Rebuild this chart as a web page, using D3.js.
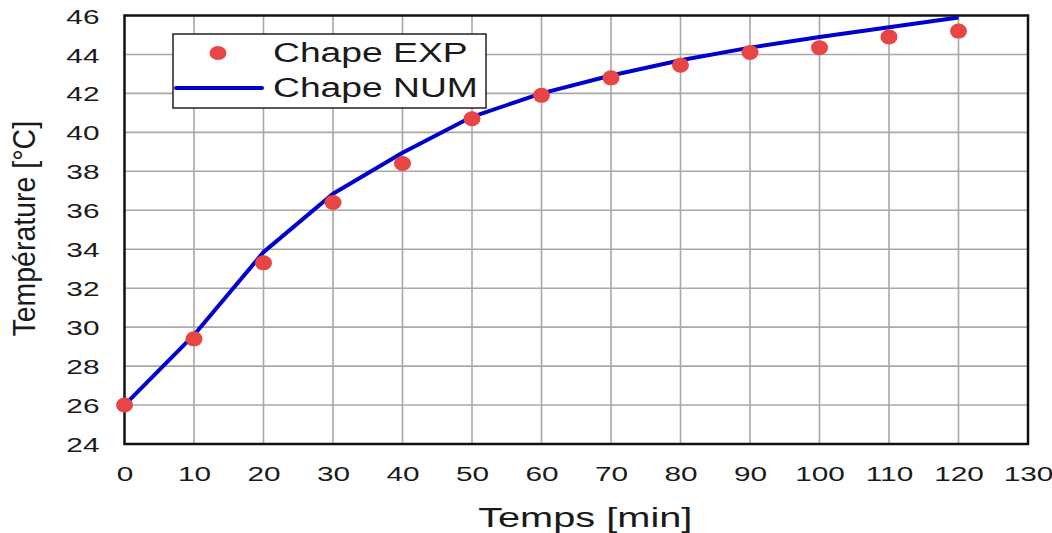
<!DOCTYPE html>
<html>
<head>
<meta charset="utf-8">
<script src="https://cdn.jsdelivr.net/npm/d3@7"></script>
<style>
  html, body { margin: 0; padding: 0; background: #fff; }
  svg { display: block; }
  text { font-family: "Liberation Sans", Arial, sans-serif; fill: #1a1a1a; }
</style>
</head>
<body>
<svg id="chart" width="1052" height="533"></svg>
<script>
// Time in minutes
const times = [0, 10, 20, 30, 40, 50, 60, 70, 80, 90, 100, 110, 120];
// Measured temperatures (°C)
const expValues = [26.0, 29.4, 33.3, 36.4, 38.4, 40.7, 41.9, 42.8, 43.45, 44.1, 44.35, 44.9, 45.2];
// Simulated temperatures (°C)
const numValues = [26.0, 29.6, 33.85, 36.85, 38.95, 40.8, 42.0, 42.92, 43.7, 44.35, 44.9, 45.4, 45.9];
const xTicks = d3.range(0, 131, 10);
const yTicks = d3.range(24, 47, 2);
const seriesNames = ["Chape EXP", "Chape NUM"];

const svg = d3.select("#chart");
const plotL = 124.5, plotR = 1028, plotT = 15.5, plotB = 444;
// horizontal widening applied to the lettering
const SX = 1.42;

const x = d3.scaleLinear().domain([0, 130]).range([plotL, plotR]);
const y = d3.scaleLinear().domain([24, 46]).range([plotB, plotT]);

// Grid
const grid = svg.append("g").attr("stroke", "#a8a8a8").attr("stroke-width", 1.6);
grid.selectAll(".vx").data(xTicks.slice(1, -1)).join("line")
  .attr("x1", d => x(d)).attr("x2", d => x(d))
  .attr("y1", plotT).attr("y2", plotB);
grid.selectAll(".hy").data(yTicks.slice(1, -1)).join("line")
  .attr("x1", plotL).attr("x2", plotR)
  .attr("y1", d => y(d)).attr("y2", d => y(d));

// Frame
svg.append("rect")
  .attr("x", plotL).attr("y", plotT)
  .attr("width", plotR - plotL).attr("height", plotB - plotT)
  .attr("fill", "none").attr("stroke", "#111").attr("stroke-width", 2.5);

// Axis tick labels
const xAxis = d3.axisBottom(x).tickValues(xTicks).tickSize(0).tickPadding(0);
const gx = svg.append("g").attr("transform", `translate(0,${plotB})`).call(xAxis);
gx.select(".domain").remove();
gx.selectAll("text").attr("dy", null).attr("y", 37)
  .attr("transform", `scale(${SX},1)`)
  .attr("font-size", 21).attr("fill", "#1a1a1a")
  .style("font-family", "'Liberation Sans', Arial, sans-serif");

const yAxis = d3.axisLeft(y).tickValues(yTicks).tickSize(0).tickPadding(0);
const gy = svg.append("g").attr("transform", `translate(${plotL},0)`).call(yAxis);
gy.select(".domain").remove();
gy.selectAll("text").attr("x", -25 / SX).attr("dy", "0.36em")
  .attr("transform", `scale(${SX},1)`)
  .attr("font-size", 21).attr("fill", "#1a1a1a")
  .style("font-family", "'Liberation Sans', Arial, sans-serif");

// Axis titles
svg.append("text")
  .attr("transform", `translate(${(plotL + plotR) / 2 + 9},527) scale(${SX},1)`)
  .attr("text-anchor", "middle").attr("font-size", 28)
  .text("Temps [min]");
svg.append("text")
  .attr("transform", `translate(35,${(plotT + plotB) / 2 - 1}) rotate(-90) scale(1,1.1)`)
  .attr("text-anchor", "middle").attr("font-size", 28.5)
  .text("Température [°C]");

// Simulated curve
const line = d3.line().x((d, i) => x(times[i])).y(d => y(d));
svg.append("path")
  .datum(numValues)
  .attr("d", line)
  .attr("fill", "none")
  .attr("stroke", "#0000cc")
  .attr("stroke-width", 4)
  .attr("stroke-linejoin", "round");

// Measured points
svg.selectAll(".pt").data(expValues).join("ellipse")
  .attr("cx", (d, i) => x(times[i]))
  .attr("cy", d => y(d))
  .attr("rx", 8.5).attr("ry", 7.5)
  .attr("fill", "#e84545");

// Legend
const lg = svg.append("g");
lg.append("rect")
  .attr("x", 173).attr("y", 34).attr("width", 313).attr("height", 74)
  .attr("fill", "#fff").attr("stroke", "#222").attr("stroke-width", 1.5);
lg.append("ellipse").attr("cx", 218).attr("cy", 53).attr("rx", 8.5).attr("ry", 7).attr("fill", "#e84545");
lg.append("line").attr("x1", 176).attr("x2", 262).attr("y1", 88).attr("y2", 88)
  .attr("stroke", "#0000cc").attr("stroke-width", 4).attr("stroke-linecap", "round");
lg.append("text").attr("transform", `translate(273,62) scale(1.38,1)`).attr("font-size", 27).text(seriesNames[0]);
lg.append("text").attr("transform", `translate(273,97) scale(1.38,1)`).attr("font-size", 27).text(seriesNames[1]);
</script>
</body>
</html>
